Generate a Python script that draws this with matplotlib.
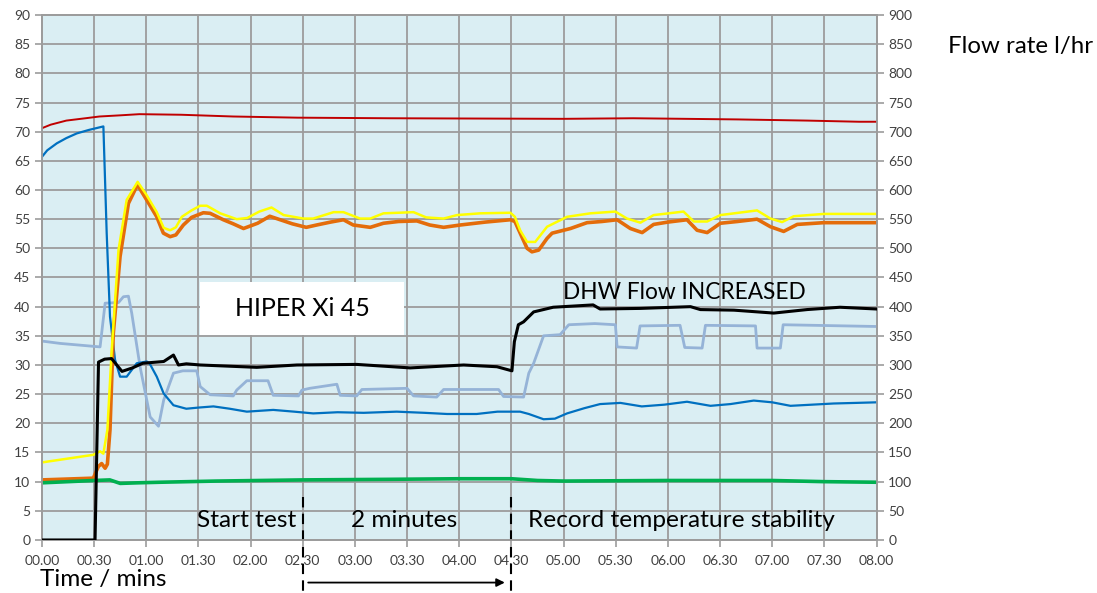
import matplotlib
matplotlib.use("Agg")
import matplotlib.pyplot as plt
from matplotlib.patches import Rectangle

# ---------------- data (time in seconds) ----------------
red_t = [0, 5, 14, 25, 33, 45, 56, 80, 110, 147, 200, 300, 340, 400, 440, 470, 480]
red_v = [70.6, 71.2, 71.9, 72.3, 72.6, 72.8, 73.0, 72.9, 72.6, 72.4, 72.3, 72.2, 72.3, 72.1, 71.9, 71.7, 71.7]

blue_t = [0, 3, 8.5, 14, 20, 27, 35.3, 37.2, 39.1, 42, 44.9, 48.7, 54.5, 60.3, 62, 66, 70, 75.6, 83, 90,
          98.6, 108, 117.8, 133, 145, 156, 170, 185, 204, 220, 233, 250, 262, 275, 280, 288.5, 295, 302,
          312, 321, 332.7, 345, 358, 371, 384.5, 396, 409.4, 420, 430.5, 443, 455.4, 468, 480]
blue_v = [65.7, 66.8, 68, 68.9, 69.7, 70.3, 70.9, 52.6, 38.3, 30.9, 28, 28, 30.3, 30.6, 30.2, 28, 25.1, 23.1, 22.5, 22.7,
          22.9, 22.5, 22, 22.3, 22, 21.7, 21.9, 21.8, 22, 21.8, 21.6, 21.6, 22, 22, 21.6, 20.7, 20.8, 21.7,
          22.6, 23.3, 23.5, 22.9, 23.2, 23.7, 23, 23.3, 23.9, 23.6, 23, 23.2, 23.4, 23.5, 23.6]

orange_t = [0, 29.5, 32.4, 34.3, 36.3, 37.6, 39.1, 41, 44.9, 49.7, 54.9, 60.2, 66, 69.8, 73.7, 77, 81.3, 86,
            92.8, 96.7, 104.3, 110, 115.9, 124, 131, 137, 144, 152, 158, 166, 173.4, 179, 188.8, 196.4, 205,
            215.6, 223, 231, 240.6, 255, 269.4, 272, 279, 281.8, 285.7, 290.5, 293.4, 304, 313.5, 322, 330.8,
            338.4, 345.2, 351.8, 360, 371, 376.8, 382.6, 390.2, 400, 411.3, 419, 426.6, 434.4, 449.7, 480]
orange_v = [10.3, 10.6, 12.6, 13.1, 12.3, 13, 18.9, 35.4, 48.6, 57.7, 60.9, 58.3, 55.4, 52.6, 52, 52.3, 54, 55.3,
            56.1, 56, 54.9, 54.2, 53.4, 54.3, 55.5, 54.9, 54.2, 53.6, 54, 54.5, 54.9, 54, 53.6, 54.3, 54.6,
            54.7, 54, 53.6, 54, 54.5, 54.9, 54.6, 50, 49.4, 49.7, 51.7, 52.6, 53.4, 54.4, 54.6, 54.9,
            53.4, 52.7, 54.1, 54.5, 54.9, 53.1, 52.7, 54.3, 54.6, 55, 53.7, 52.9, 54.1, 54.4, 54.4]

yellow_t = [0, 29.5, 33.4, 35.3, 37.6, 40.1, 44, 48.7, 55, 60, 66, 70, 73.7, 77, 80.4, 86, 91, 94.8, 102.5,
            112, 118, 125, 132, 139, 150.4, 156, 167.7, 173.4, 183, 188.8, 196.4, 213.7, 221, 231, 238.7,
            252, 269.4, 272, 275, 279, 283.7, 290.5, 302, 315.4, 329.8, 336.5, 344.2, 351.8, 369, 374.9,
            382.6, 390.2, 411.3, 419, 425.7, 432.4, 449.7, 480]
yellow_v = [13.3, 14.6, 15.2, 14.8, 18.9, 32.6, 49.7, 58.3, 61.4, 59.2, 56.2, 53.5, 53.1, 53.6, 55.4, 56.5, 57.3, 57.3, 56,
            55, 55.2, 56.3, 57, 55.7, 55.1, 55.1, 56.2, 56.2, 55.1, 55.1, 56, 56.2, 55.3, 55.1, 55.7,
            56, 56.1, 55.4, 53.1, 51.1, 51.1, 53.7, 55.4, 56, 56.3, 55.1, 54.4, 55.7, 56.3, 54.6,
            54.6, 55.7, 56.5, 55.1, 54.5, 55.5, 55.9, 55.9]

steel_t = [0, 10.4, 33.4, 36.3, 44, 46.8, 49.7, 51.6, 56.4, 62.2, 67, 70, 75.6, 81, 89, 91, 96.7, 110, 112,
           117.8, 130, 133, 147.5, 149.5, 154, 169.6, 171.5, 181, 184, 210, 213.7, 227, 231, 262.6, 265.5,
           277, 280, 282.8, 288.5, 298, 303, 318, 329.8, 330.8, 342, 344, 367, 369.7, 379.7, 381.6, 410.4,
           411.3, 424.7, 426.3, 480]
steel_v = [34.1, 33.7, 33.1, 40.6, 40.7, 41.7, 41.8, 38.9, 29.7, 21.1, 19.5, 24, 28.6, 29, 29, 26.3, 24.9, 24.7, 25.7,
           27.3, 27.3, 24.8, 24.7, 25.7, 26, 26.7, 24.8, 24.7, 25.8, 26, 24.7, 24.5, 25.8, 25.8, 24.6,
           24.5, 28.6, 30.3, 35, 35.2, 36.9, 37.1, 36.9, 33.1, 32.9, 36.7, 36.8, 33, 32.9, 36.8, 36.7,
           32.9, 32.9, 36.9, 36.6]

green_t = [0, 30, 39, 45, 55, 68, 100, 150, 200, 240, 270, 285, 300, 360, 420, 450, 480]
green_v = [9.8, 10.2, 10.3, 9.7, 9.8, 9.9, 10.1, 10.3, 10.4, 10.5, 10.5, 10.2, 10.1, 10.2, 10.2, 10.0, 9.9]

# DHW flow, l/hr (right axis)
flow_t = [0, 30.5, 32.5, 36, 40, 46, 52, 58, 70, 75.6, 78.5, 83, 91, 123.5, 146.6, 181, 211.8, 242.5, 261.7,
          270.3, 271.7, 274, 277, 282.8, 294, 317, 321, 344, 373, 378.7, 398, 420.9, 440, 459, 480]
flow_v = [0, 0, 305, 310, 311, 289, 295, 303, 306, 317, 300, 302, 300, 296, 300, 301, 295, 300, 297,
          290, 340, 369, 374, 391, 399, 403, 396, 397, 400, 395, 394, 389, 395, 399, 396]

x_ticks = list(range(0, 481, 30))
x_labels = ["00.00", "00.30", "01.00", "01.30", "02.00", "02.30", "03.00", "03.30", "04.00",
            "04.30", "05.00", "05.30", "06.00", "06.30", "07.00", "07.30", "08.00"]

# ---------------- figure ----------------
plt.rcParams["font.family"] = ["Lato", "DejaVu Sans"]
fig = plt.figure(figsize=(10.97, 5.93), dpi=100)
ax = fig.add_axes([0.0383, 0.0894, 0.7607, 0.8853])
ax2 = ax.twinx()

grid_col = "#9c9c9c"
ax.set_facecolor("#daeef3")
ax.set_xlim(0, 480)
ax.set_ylim(0, 90)
ax2.set_ylim(0, 900)
ax.set_xticks(x_ticks)
ax.set_xticklabels(x_labels)
ax.set_yticks(range(0, 91, 5))
ax2.set_yticks(range(0, 901, 50))
ax.grid(True, color=grid_col, linewidth=1.3)
ax.set_axisbelow(True)

for a in (ax, ax2):
    for s in a.spines.values():
        s.set_color(grid_col)
        s.set_linewidth(1.3)
    a.tick_params(colors=grid_col, labelcolor="#404040", labelsize=10, length=5, width=1.2)
ax.tick_params(axis="x", pad=6)

# lines
ax.plot(red_t, red_v, color="#c00000", lw=1.4, zorder=3)
ax.plot(steel_t, steel_v, color="#95b3d7", lw=2.0, zorder=3)
ax.plot(blue_t, blue_v, color="#0070c0", lw=1.6, zorder=3)
ax.plot(orange_t, orange_v, color="#e46c0a", lw=2.6, zorder=3)
ax.plot(yellow_t, yellow_v, color="#ffff00", lw=1.8, zorder=3)
ax.plot(green_t, green_v, color="#00b050", lw=2.6, zorder=3)
ax2.plot(flow_t, flow_v, color="black", lw=2.2, zorder=4)

# annotations
ax.add_patch(Rectangle((90.9, 35.1), 117.4, 9.1, facecolor="white", edgecolor="none", zorder=5))
ax.text(149.6, 39.6, "HIPER Xi 45", fontsize=18, ha="center", va="center", zorder=6)
ax.text(369.5, 42.5, "DHW Flow INCREASED", fontsize=16.3, ha="center", va="center", zorder=6)
ax.text(146.5, 3.4, "Start test", fontsize=17.6, ha="right", va="center", zorder=6)
ax.text(208.3, 3.4, "2 minutes", fontsize=17.6, ha="center", va="center", zorder=6)
ax.text(279.7, 3.4, "Record temperature stability", fontsize=17.6, ha="left", va="center", zorder=6)

for xd in (150, 270):
    ax.plot([xd, xd], [7.4, -9.1], color="black", lw=1.5, ls=(0, (5, 3)), clip_on=False, zorder=6)
ax.annotate("", xy=(267.8, -7.3), xytext=(151.5, -7.3), annotation_clip=False,
            arrowprops=dict(arrowstyle="-|>", color="black", lw=1.3, mutation_scale=12))

fig.text(0.864, 0.921, "Flow rate l/hr", fontsize=17.3, ha="left", va="center")
fig.text(0.0365, 0.022, "Time / mins", fontsize=17.5, ha="left", va="center")

fig.savefig("out.png", dpi=100)
